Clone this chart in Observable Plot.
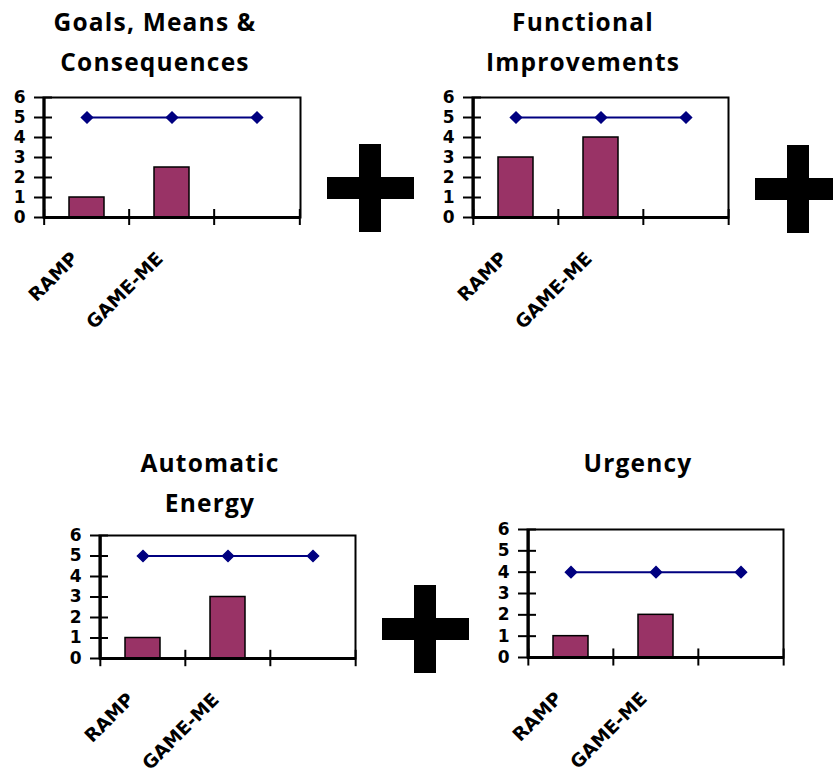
<!DOCTYPE html>
<html><head><meta charset="utf-8">
<script src="https://cdn.jsdelivr.net/npm/d3@7"></script>
<script src="https://cdn.jsdelivr.net/npm/@observablehq/plot@0.6"></script>
<style>
body{margin:0;background:#fff}
#root{position:relative;width:833px;height:772px;overflow:hidden;background:#fff}
.title{position:absolute;font-family:"Open Sans";font-weight:700;font-size:24.5px;letter-spacing:1.2px;line-height:40px;text-align:center;color:#000;white-space:nowrap}
.pbar{position:absolute;background:#000}
.panel{position:absolute}
.panel svg text{font-family:"DejaVu Sans" !important;font-size:17px !important;font-weight:bold !important;fill:#000}
.panel svg g[aria-label="text"] text{font-size:18.5px !important}
</style></head><body><div id="root"></div>
<script>
// ---- data ----
const categories = ["RAMP", "GAME-ME", ""];
const panelTitles = [["Goals, Means &", "Consequences"], ["Functional", "Improvements"], ["Automatic", "Energy"], ["Urgency"]];
const rampValues = [1, 3, 1, 1];
const gameMeValues = [2.5, 4, 3, 2];
const targetSeries = [[5, 5, 5], [5, 5, 5], [5, 5, 5], [4, 4, 4]];
const yTicks = [0, 1, 2, 3, 4, 5, 6];

// ---- layout (pixels) ----
const frames = [
  {L: 43, R: 300, T: 97, B: 217, cx: 155, ty: 2},
  {L: 472, R: 728, T: 97, B: 217, cx: 583, ty: 2},
  {L: 99, R: 355, T: 535, B: 658, cx: 210, ty: 442.5},
  {L: 527, R: 783, T: 529, B: 657, cx: 638, ty: 442.5}
];
const pluses = [{x: 327, y: 144}, {x: 755, y: 145}, {x: 382, y: 585}];

const root = document.getElementById("root");
const mL = 50, mR = 12, mT = 10, mB = 110;

frames.forEach((f, i) => {
  const w = f.R - f.L, h = f.B - f.T, bw = w / 3;
  const bars = [{c: categories[0], v: rampValues[i]}, {c: categories[1], v: gameMeValues[i]}];
  const line = categories.map((c, j) => ({c, v: targetSeries[i][j]}));
  const plot = Plot.plot({
    width: w + mL + mR, height: h + mT + mB,
    marginLeft: mL, marginRight: mR, marginTop: mT, marginBottom: mB,
    x: {domain: categories, padding: 0, axis: null},
    y: {domain: [0, 6], label: null},
    style: {fontFamily: "DejaVu Sans", fontSize: "17px", fontWeight: "bold", color: "black", background: "transparent", overflow: "visible"},
    marks: [
      Plot.barY(bars, {x: "c", y: "v", fill: "#993366", stroke: "black", strokeWidth: 1.5, insetLeft: 25, insetRight: 25}),
      Plot.frame({stroke: "black", strokeWidth: 2}),
      Plot.ruleY([0], {stroke: "black", strokeWidth: 3}),
      Plot.ruleX(categories.slice(0, 1), {x: d => d, y1: 0, y2: 6, dx: -bw / 2, stroke: "black", strokeWidth: 3}),
      Plot.ruleX(categories, {x: d => d, y1: -0.4, y2: 0.4, dx: -bw / 2, stroke: "black", strokeWidth: 2}),
      Plot.ruleX(categories.slice(-1), {x: d => d, y1: -0.4, y2: 0.4, dx: bw / 2, stroke: "black", strokeWidth: 2}),
      Plot.axisY(yTicks, {tickSize: 18, dx: 9, tickPadding: 9, strokeWidth: 2, label: null}),
      Plot.line(line, {x: "c", y: "v", stroke: "#000080", strokeWidth: 2}),
      Plot.dot(line, {x: "c", y: "v", symbol: "diamond2", r: 5, fill: "#000080", stroke: "#000080"}),
      Plot.text(categories, {x: d => d, y: 0, text: d => d, rotate: -45, textAnchor: "end", dx: -12, dy: 38, fill: "black"})
    ]
  });
  const holder = document.createElement("div");
  holder.className = "panel";
  holder.style.left = (f.L - mL) + "px";
  holder.style.top = (f.T - mT) + "px";
  holder.appendChild(plot);
  root.appendChild(holder);

  const t = document.createElement("div");
  t.className = "title";
  t.style.left = (f.cx - 200) + "px";
  t.style.width = "400px";
  t.style.top = f.ty + "px";
  panelTitles[i].forEach(s => { const d = document.createElement("div"); d.textContent = s; t.appendChild(d); });
  root.appendChild(t);
});

pluses.forEach(p => {
  const hb = document.createElement("div");
  hb.className = "pbar";
  Object.assign(hb.style, {left: p.x + "px", top: (p.y + 33) + "px", width: "87px", height: "22px"});
  const vb = document.createElement("div");
  vb.className = "pbar";
  Object.assign(vb.style, {left: (p.x + 32) + "px", top: p.y + "px", width: "22px", height: "88px"});
  root.appendChild(hb); root.appendChild(vb);
});
</script></body></html>
